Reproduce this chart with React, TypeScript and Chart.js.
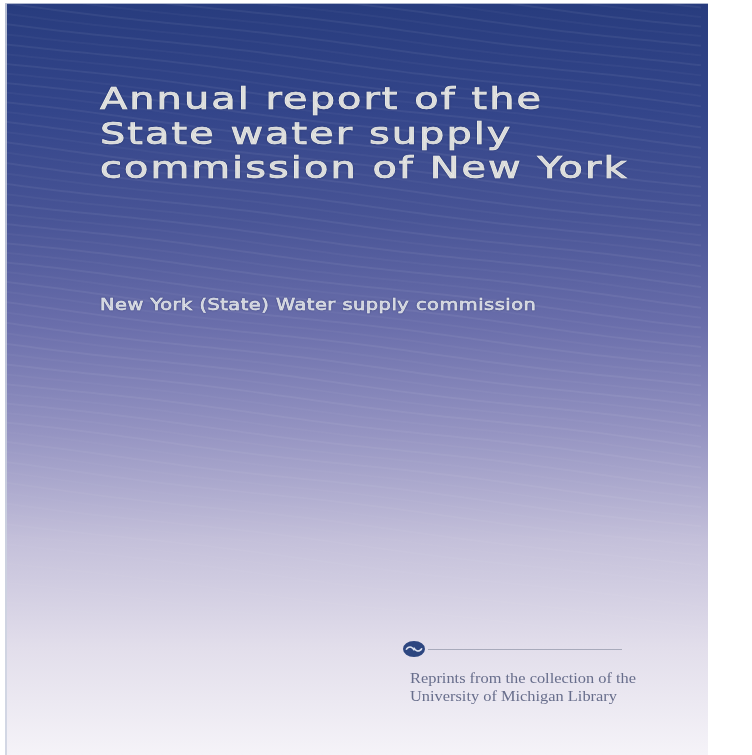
import React, { useEffect, useRef } from "react";
import { Chart, registerables } from "chart.js";

Chart.register(...registerables);

const titleLines = ["Annual report of the", "State water supply", "commission of New York"];
const authorLines = ["New York (State) Water supply commission"];
const imprintLines = ["Reprints from the collection of the", "University of Michigan Library"];
const coverShades = ["#283c7e", "#33458a", "#485496", "#6a6eab", "#9594c2", "#c4c0da", "#e2deeb", "#f5f3f8"];

export default function App() {
  const ref = useRef<HTMLCanvasElement>(null);

  useEffect(() => {
    const canvas = ref.current;
    if (!canvas) return;

    const drawStretched = (
      ctx: CanvasRenderingContext2D,
      text: string,
      x: number,
      y: number,
      sx: number,
      thicken: number
    ) => {
      ctx.save();
      ctx.translate(x, y);
      ctx.scale(sx, 1);
      ctx.fillText(text, 0, 0);
      if (thicken > 0) {
        ctx.lineWidth = thicken;
        ctx.strokeStyle = ctx.fillStyle as string;
        ctx.strokeText(text, 0, 0);
      }
      ctx.restore();
    };

    const coverPlugin = {
      id: "cover",
      beforeDraw(chart: any) {
        const ctx: CanvasRenderingContext2D = chart.ctx;
        const W = chart.width;
        const H = chart.height;
        const L = 5, T = 3, R = 708, B = H;
        ctx.save();
        ctx.fillStyle = "#ffffff";
        ctx.fillRect(0, 0, W, H);

        // cover gradient
        const g = ctx.createLinearGradient(0, T, 0, B);
        coverShades.forEach((c, i) => g.addColorStop(i / (coverShades.length - 1), c));
        ctx.fillStyle = g;
        ctx.fillRect(L, T, R - L, B - T);

        // faint diagonal stripes
        ctx.save();
        ctx.beginPath();
        ctx.rect(L, T, R - L, B - T);
        ctx.clip();
        ctx.lineWidth = 2;
        for (let i = -20; i < 80; i++) {
          const y0 = T + i * 10;
          const fade = Math.max(0, 1 - Math.max(0, y0 - 350) / 400);
          ctx.beginPath();
          for (let x = L; x <= R; x += 8) {
            const y = y0 + (x - L) * 0.12 + Math.sin((x + i * 23) / 60) * 1.2;
            if (x === L) ctx.moveTo(x, y);
            else ctx.lineTo(x, y);
          }
          const a = (i % 2 === 0 ? 0.06 : 0.035) * fade;
          ctx.strokeStyle = `rgba(255,255,255,${a})`;
          ctx.stroke();
        }
        ctx.restore();

        // edges
        ctx.fillStyle = "rgba(205,210,225,0.85)";
        ctx.fillRect(L, T, 2, B - T);
        ctx.fillStyle = "rgba(190,196,215,0.9)";
        ctx.fillRect(L, T, R - L, 1);

        // title
        ctx.fillStyle = "#efefea";
        ctx.textBaseline = "alphabetic";
        ctx.textAlign = "left";
        ctx.font = "31px 'DejaVu Sans'";
        (ctx as any).letterSpacing = "1.6px";
        ctx.shadowColor = "rgba(20,30,70,0.45)";
        ctx.shadowBlur = 2;
        titleLines.forEach((t, i) => drawStretched(ctx, t, 100, 109 + i * 34.5, 1.285, 0.7));

        // author
        ctx.font = "15px 'DejaVu Sans'";
        (ctx as any).letterSpacing = "0.4px";
        ctx.fillStyle = "#eceef2";
        authorLines.forEach((t, i) => drawStretched(ctx, t, 100, 310 + i * 18, 1.29, 0.5));
        ctx.shadowBlur = 0;
        ctx.shadowColor = "transparent";

        // logo
        ctx.fillStyle = "#2d4680";
        ctx.beginPath();
        ctx.ellipse(414, 649, 11, 8, 0, 0, Math.PI * 2);
        ctx.fill();
        ctx.strokeStyle = "#dfe4f0";
        ctx.lineWidth = 1.6;
        ctx.beginPath();
        ctx.arc(410, 651, 4, Math.PI * 1.1, Math.PI * 1.95);
        ctx.stroke();
        ctx.beginPath();
        ctx.arc(418, 647, 4, Math.PI * 0.1, Math.PI * 0.95);
        ctx.stroke();
        ctx.strokeStyle = "#a8aabb";
        ctx.lineWidth = 1;
        ctx.beginPath();
        ctx.moveTo(428, 649.5);
        ctx.lineTo(622, 649.5);
        ctx.stroke();

        // imprint
        ctx.font = "14px 'Liberation Serif'";
        (ctx as any).letterSpacing = "0px";
        ctx.fillStyle = "#686e8c";
        imprintLines.forEach((t, i) => drawStretched(ctx, t, 410, 683 + i * 17.5, 1.17, 0));
        ctx.restore();
      },
    };

    const chart = new Chart(canvas, {
      type: "bar",
      data: { labels: [], datasets: [] },
      options: {
        animation: false,
        responsive: false,
        events: [],
        plugins: {
          legend: { display: false },
          tooltip: { enabled: false },
          title: { display: false },
        },
        scales: { x: { display: false }, y: { display: false } },
      },
      plugins: [coverPlugin],
    });
    return () => chart.destroy();
  }, []);

  return (
    <div style={{ position: "fixed", left: 0, top: 0, width: 752, height: 755, background: "#fff" }}>
      <canvas ref={ref} width={752} height={755} style={{ display: "block" }} />
    </div>
  );
}
